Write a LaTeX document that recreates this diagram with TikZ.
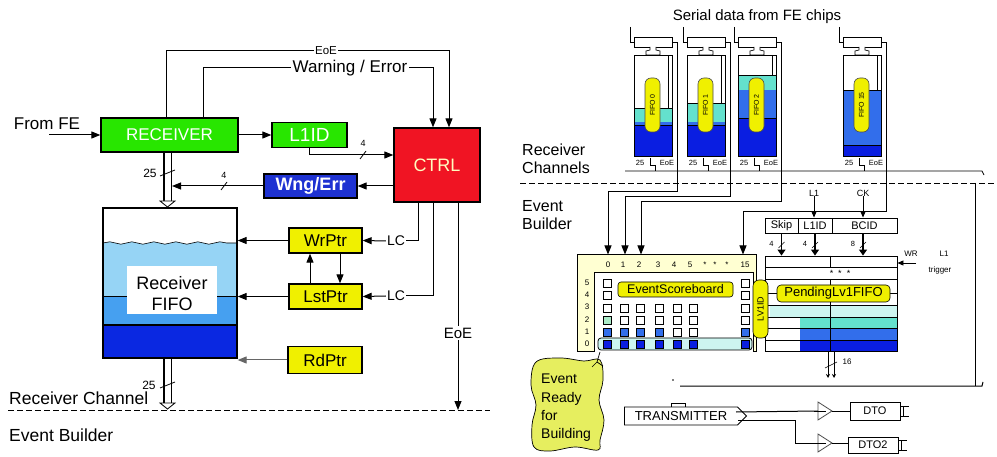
\documentclass[tikz,border=0pt]{standalone}
\usepackage{fontspec}
\setmainfont{Liberation Sans}
\usetikzlibrary{arrows.meta,decorations.pathmorphing,shapes.symbols,calc}
\newcommand\myfs[1]{\fontsize{#1}{#1}\selectfont}
\definecolor{cgreen}{RGB}{40,230,0}
\definecolor{cred}{RGB}{240,20,35}
\definecolor{cblue}{RGB}{30,50,210}
\definecolor{cyel}{RGB}{240,240,0}
\definecolor{fifoL}{RGB}{150,212,245}
\definecolor{fifoM}{RGB}{70,160,240}
\definecolor{fifoD}{RGB}{10,40,225}
\definecolor{aqua}{RGB}{100,225,205}
\definecolor{midb}{RGB}{50,110,235}
\definecolor{darkb}{RGB}{10,30,225}
\definecolor{paleq}{RGB}{205,245,240}
\definecolor{paleg}{RGB}{170,235,200}
\definecolor{pyel}{RGB}{255,255,210}
\definecolor{callout}{RGB}{230,238,95}
\begin{document}
\begin{tikzpicture}[x=1pt,y=-1pt,
  blk/.style={draw=black, line width=1.3pt, inner sep=0pt},
  wire/.style={line width=1pt},
  arr/.style={line width=1pt, -{Triangle[length=9pt,width=7pt]}},
  sarr/.style={line width=0.8pt, -{Triangle[length=6pt,width=5pt]}},
  barr/.style={line width=1.2pt, -{Triangle[length=6pt,width=8pt]}},
  sq/.style={draw=black, line width=0.9pt},
  lbl/.style={inner sep=0pt, font=\myfs{17}},
  small/.style={inner sep=0pt, font=\myfs{8}},
  pill/.style={fill=cyel, draw=black!70, line width=0.6pt, inner sep=0pt},
  whitelbl/.style={fill=white, inner sep=1.5pt}]
\useasboundingbox (0,0) rectangle (997,457);
\fill[white] (0,0) rectangle (997,457);

% ================= LEFT: receiver channel =================
% FIFO contents
\fill[fifoL] decorate[decoration={snake,amplitude=1.2pt,segment length=22pt}]{(103,243) -- (237,243)} -- (237,296) -- (103,296) -- cycle;
\draw[line width=0.6pt] decorate[decoration={snake,amplitude=1.2pt,segment length=22pt}]{(103,243) -- (237,243)};
\fill[fifoM] (103,296) rectangle (237,325);
\fill[fifoD] (103,325) rectangle (237,358);
\draw[line width=0.8pt] (103,296) -- (237,296);
\draw[line width=1.2pt] (103,325) -- (237,325);
\fill[white] (127,266) rectangle (217,314);
\node[align=center, font=\fontsize{18}{21}\selectfont, inner sep=0pt] (fifolbl) at (172,293.5) {Receiver\\FIFO};
\node[draw, line width=1.3pt, minimum width=134pt, minimum height=150pt, inner sep=0pt] (fifo) at (170,283) {};

\node[blk, fill=cgreen, minimum width=137pt, minimum height=34pt, text=white, font=\myfs{17}] (rcv) at (169.5,135) {RECEIVER};
\node[blk, fill=cgreen, minimum width=75pt, minimum height=25pt, text=white, font=\myfs{19}] (l1id) at (309.5,135) {L1ID};
\node[blk, fill=cred, minimum width=86pt, minimum height=74pt, text=yellow!25!white, font=\myfs{18}] (ctrl) at (437,165) {CTRL};
\node[blk, fill=cblue, minimum width=93pt, minimum height=24pt, text=white, font=\bfseries\myfs{18}] (wng) at (310.5,186) {Wng/Err};
\node[blk, fill=cyel, minimum width=73pt, minimum height=25pt, font=\myfs{17}] (wrptr) at (325.5,240.5) {WrPtr};
\node[blk, fill=cyel, minimum width=73pt, minimum height=25pt, font=\myfs{17}] (lstptr) at (325.5,296.5) {LstPtr};
\node[blk, fill=cyel, minimum width=74pt, minimum height=27pt, font=\myfs{17}] (rdptr) at (325,360) {RdPtr};
\node[lbl] (fromfe) at (47,124) {From FE};

\coordinate (fe) at (49,135);
\draw[arr] (fe) -- (rcv.west);
\draw[arr] (rcv.east) -- (l1id.west);
\draw[arr] (l1id.south) |- (ctrl.west |- 0,155);
\draw[line width=0.8pt] (360,159) -- (366,151);
\node[small, font=\myfs{9}] at (363,143) {4};
\draw[arr] (ctrl.west |- wng.east) -- (wng.east);
\coordinate (busR) at (172,186);
\draw[arr] (wng.west) -- (busR);
\draw[line width=0.8pt] (221,190) -- (227,182);
\node[small, font=\myfs{9}] at (224,175) {4};

% top feedback lines
\draw[arr] (166,0 |- rcv.north) |- (449,51) -- (449,0 |- ctrl.north);
\node[whitelbl, font=\myfs{11.5}] at (326,51) {EoE};
\draw[arr] (203,0 |- rcv.north) |- (433,68) -- (433,0 |- ctrl.north);
\node[whitelbl, font=\myfs{17}] at (350,68) {Warning / Error};

% CTRL outputs
\node[inner sep=1pt, font=\myfs{14}] (lc1) at (396,241) {LC};
\node[inner sep=1pt, font=\myfs{14}] (lc2) at (396,296) {LC};
\draw[wire] (418,0 |- ctrl.south) |- (lc1.east);
\draw[arr] (lc1.west) -- (wrptr.east);
\draw[wire] (433,0 |- ctrl.south) |- (lc2.east);
\draw[arr] (lc2.west) -- (lstptr.east);
\coordinate (eoeend) at (458,410);
\draw[arr] (458,0 |- ctrl.south) -- (eoeend);
\node[whitelbl, font=\myfs{15}] at (458,333) {EoE};

% pointer arrows
\draw[arr] (wrptr.west) -- (fifo.east |- wrptr.west);
\draw[arr] (lstptr.west) -- (fifo.east |- lstptr.west);
\draw[arr, draw=black!60] (rdptr.west) -- (fifo.east |- rdptr.west);
\draw[arr] (310,0 |- lstptr.north) -- (310,0 |- wrptr.south);
\draw[arr] (340,0 |- wrptr.south) -- (340,0 |- lstptr.north);

% buses
\draw[line width=1.6pt] (164,0 |- rcv.south) -- (164,201);
\draw[line width=1pt] (171,0 |- rcv.south) -- (171,201);
\draw[line width=0.8pt, fill=white] (160,201) -- (175,201) -- (167.5,207) -- cycle;
\draw[line width=0.8pt] (160,176) -- (175,170);
\node[inner sep=0pt, font=\myfs{12}] at (150,173) {25};
\draw[line width=1.6pt] (164,0 |- fifo.south) -- (164,403);
\draw[line width=1pt] (171,0 |- fifo.south) -- (171,403);
\draw[line width=0.8pt, fill=white] (160,403) -- (175,403) -- (167.5,409) -- cycle;
\draw[line width=0.8pt] (160,388) -- (175,382);
\node[inner sep=0pt, font=\myfs{12}] at (149,385) {25};

\draw[line width=1pt, dash pattern=on 6pt off 3pt] (8,410) -- (490,410);
\node[lbl, anchor=west, font=\myfs{17.5}] at (9,398) {Receiver Channel};
\node[lbl, anchor=west, font=\myfs{17.5}] at (9,435) {Event Builder};

% ================= RIGHT: event builder =================
\node[inner sep=0pt, font=\myfs{15}] (serial) at (757,17) {Serial data from FE chips};

\foreach \L/\lab/\wa/\wb/\wc [count=\i] in {634/0/108/122/125, 687/1/103/122/125, 738/2/75/90/118, 843/15/90/90/145} {
  \fill[aqua] (\L,\wa) rectangle (\L+38,\wb);
  \fill[midb] (\L,\wb) rectangle (\L+38,\wc);
  \fill[darkb] (\L,\wc) rectangle (\L+38,157);
  \draw[line width=0.6pt] (\L,\wa) -- (\L+38,\wa) (\L,\wc) -- (\L+38,\wc);
  \draw[line width=0.6pt] (\L+34,56) -- (\L+34,\wa);
  \node[draw, line width=1pt, minimum width=38pt, minimum height=101pt, inner sep=0pt] (ch\i) at (\L+19,106.5) {};
  \node[draw, line width=0.9pt, minimum width=38pt, minimum height=10pt, inner sep=0pt] (mux\i) at (\L+19,42) {};
  \draw[line width=0.8pt] (\L-4,27) |- (mux\i.west);
  \draw[line width=0.7pt, fill=white] (\L+16,47) -- (\L+16,50) -- (\L+12,51) -- (\L+12,55) -- (\L+26,55) -- (\L+26,51) -- (\L+22,50) -- (\L+22,47);
  \draw[line width=0.8pt] (mux\i.east) -| (\L+43,171);
  \node[pill, rounded corners=6pt, minimum width=15pt, minimum height=54pt] (pill\i) at (\L+18.5,105) {};
  \node[rotate=90, inner sep=0pt, font=\myfs{7}] at (pill\i) {FIFO \lab};
  \node[small, font=\myfs{7.5}] at (\L+6,163) {25};
  \node[small, font=\myfs{7.5}] at (\L+33,163) {EoE};
  \draw[line width=0.6pt] (\L+16,158) -- (\L+16,165) -- (\L+21,165) -- (\L+21,171);
}
\draw[line width=0.8pt] (625,171) -- (982,171) -- (984,175);
\draw[line width=0.9pt, dash pattern=on 6pt off 3pt] (520,183) -- (997,183);
\node[lbl, anchor=west, font=\myfs{16}] at (522,150) {Receiver};
\node[lbl, anchor=west, font=\myfs{16}] at (522,168) {Channels};
\node[lbl, anchor=west, font=\myfs{16}] at (522,206) {Event};
\node[lbl, anchor=west, font=\myfs{16}] at (522,224) {Builder};

% scoreboard
\node[draw, fill=pyel, line width=1pt, minimum width=179pt, minimum height=97pt, inner sep=0pt] (sb) at (666.5,303.5) {};
\draw[line width=1pt, fill=white] (594,352) |- (753,273) -- (753,352);
\draw[arr] (677,171) |- (608,192) -- (608,0 |- sb.north);
\draw[arr] (730,171) |- (625,197) -- (625,0 |- sb.north);
\draw[arr] (781,171) |- (641,202) -- (641,0 |- sb.north);
\draw[arr] (886,171) |- (743,212) -- (743,0 |- sb.north);
\foreach \t/\x in {0/608,1/623,2/639,3/658,4/674,5/690,*/705,*/715,*/727,15/745}
  \node[small] at (\x,265) {\t};
\foreach \t/\y in {5/283,4/295,3/307,2/320,1/332,0/344}
  \node[small] at (587,\y) {\t};
\draw[fill=paleq, rounded corners=3pt, line width=0.8pt] (598,338) rectangle (752,350);
\foreach \x in {607.5,745} \foreach \y in {283.5,295}
  \draw[sq, fill=white] (\x-4,\y-4) rectangle (\x+4,\y+4);
\foreach \x in {607.5,624,640,659,677,693,745} {
  \draw[sq, fill=white] (\x-4,304) rectangle (\x+4,312);
  \draw[sq, fill=darkb] (\x-4,340) rectangle (\x+4,348);
}
\foreach \x/\c in {607.5/paleg,624/white,640/white,659/white,677/white,693/white,745/white}
  \draw[sq, fill=\c] (\x-4,316) rectangle (\x+4,324);
\foreach \x/\c in {607.5/midb,624/midb,640/midb,659/midb,677/white,693/white,745/midb}
  \draw[sq, fill=\c] (\x-4,328) rectangle (\x+4,336);
\node[pill, draw=black, rounded corners=3pt, minimum width=115pt, minimum height=15pt, font=\myfs{12.5}] (esb) at (675.5,289.5) {EventScoreboard};

% L1 / CK and ID register
\node[draw, line width=0.9pt, minimum width=33pt, minimum height=15pt, inner sep=0pt, font=\myfs{11}] (skip) at (781.5,225.5) {Skip};
\node[draw, line width=0.9pt, minimum width=34pt, minimum height=15pt, inner sep=0pt, font=\myfs{11}] (l1idr) at (815,225.5) {L1ID};
\node[draw, line width=0.9pt, minimum width=65pt, minimum height=15pt, inner sep=0pt, font=\myfs{11}] (bcid) at (864.5,225.5) {BCID};
\node[small, font=\myfs{9}] (l1in) at (814,193) {L1};
\node[small, font=\myfs{9}] (ck) at (863,193) {CK};
\draw[sarr] (l1in.south) -- (l1in.south |- l1idr.north);
\draw[sarr] (ck.south) -- (ck.south |- bcid.north);

\node[draw, line width=0.9pt, minimum width=132pt, minimum height=11pt, inner sep=0pt] (reg) at (831,261.5) {};
\draw[line width=0.9pt] (830,0 |- reg.north) -- (830,0 |- reg.south);
\draw[barr] (781.5,0 |- skip.south) -- (781.5,0 |- reg.north);
\draw[barr] (815,0 |- l1idr.south) -- (815,0 |- reg.north);
\draw[barr] (863,0 |- bcid.south) -- (863,0 |- reg.north);
\foreach \x/\n in {781.5/4,815/4,863/8} {
  \draw[line width=0.6pt] (\x-3,248) -- (\x+3,242);
  \node[small, font=\myfs{7.5}] at (\x-10,244) {\n};
}
\coordinate (wr) at (916,263);
\draw[sarr] (wr) -- (reg.east |- wr);
\node[small, font=\myfs{8}] at (911,254) {WR};
\node[small, font=\myfs{8}] at (944,254) {L1};
\node[small, font=\myfs{8}] at (940,270) {trigger};
\node[small, font=\myfs{9}] at (840,273) {* \ * \ *};

% pending LV1 FIFO
\fill[paleq] (770,305) rectangle (897,317);
\fill[aqua] (800,317) rectangle (897,328);
\fill[midb] (800,328) rectangle (897,340);
\fill[darkb] (800,340) rectangle (897,352);
\node[draw, line width=1pt, minimum width=132pt, minimum height=72pt, inner sep=0pt] (pend) at (831,316) {};
\draw[line width=1pt] (765,0 |- reg.south) -- (765,280) (897,0 |- reg.south) -- (897,280);
\foreach \y in {293,305,317,328,340}
  \draw[line width=0.9pt] (765,\y) -- (897,\y);
\draw[line width=0.9pt, white] (830,318) -- (830,352);
\draw[line width=0.9pt] (830,280) -- (830,352);
\node[pill, draw=black, rounded corners=4pt, minimum width=113pt, minimum height=17pt, font=\myfs{13}] (plf) at (833.5,293.5) {PendingLv1FIFO};
\node[pill, draw=black, rounded corners=6pt, minimum width=15pt, minimum height=58pt] (lv1) at (760.5,309) {};
\node[rotate=90, inner sep=0pt, font=\myfs{9}] at (lv1) {LV1ID};
\draw[line width=0.8pt, -{Stealth[length=4pt,width=4pt]}] (828,0 |- pend.south) -- (828,378);
\draw[line width=0.8pt, -{Stealth[length=4pt,width=4pt]}] (834,0 |- pend.south) -- (834,378);
\draw[line width=0.6pt] (825,368) -- (837,362);
\node[small, font=\myfs{8}] at (847,362) {16};

% callout
\draw[line width=0.7pt, fill=callout] plot[smooth cycle, tension=0.6] coordinates {(536,362) (560,358) (584,361) (600,360) (603,380) (599,400) (604,420) (600,440) (598,450) (575,447) (550,451) (534,447) (532,425) (536,405) (531,385)};
\node[align=left, anchor=north west, inner sep=0pt, font=\fontsize{14}{18.3}\selectfont] (evr) at (541,374) {Event\\Ready\\for\\Building};
\draw[line width=0.7pt] (600,352) -- (597,362) -- (592,367) (597,362) -- (603,366);

% transmitter and outputs
\node[signal, signal to=east, draw, line width=0.9pt, minimum width=122pt, minimum height=18pt, inner sep=0pt, font=\myfs{13}] (tx) at (681,416) {TRANSMITTER};
\draw[line width=0.7pt] (671,407) |- (685,403) -- (685,407);
\fill (673,380) circle (0.9);
\draw[wire] (680,386) -- (982,386) -- (983,382);
\draw[wire] (975,183) -- (975,386);
\node[draw, line width=0.9pt, minimum width=50pt, minimum height=18pt, inner sep=0pt, font=\myfs{11}] (dto) at (875,411) {DTO};
\node[draw, line width=0.9pt, minimum width=50pt, minimum height=16pt, inner sep=0pt, font=\myfs{11}] (dto2) at (873,445) {DTO2};
\coordinate (b1) at (818,411);
\coordinate (b2) at (818,443);
\draw[line width=0.8pt, draw=black!70] (b1) ++(0,-9) -- ++(14,9) -- ++(-14,9) -- cycle;
\draw[line width=0.8pt, draw=black!70] (b2) ++(0,-9) -- ++(14,9) -- ++(-14,9) -- cycle;
\draw[wire] (736,412) -- (b1);
\draw[wire] (814,411) -- (826,411);
\draw[wire] (832,411) -- (dto.west);
\draw[wire] (738,420) -| (795,443) -- (b2);
\draw[wire] (814,443) -- (826,443);
\draw[wire] (832,443) -- (dto2.west |- b2);
\draw[line width=0.8pt] (dto.east |- 0,406) -- ++(9,0) (dto.east |- 0,416) -- ++(9,0) (903,406) -- (903,416);
\draw[line width=0.8pt] (dto2.east |- 0,440) -- ++(9,0) (dto2.east |- 0,450) -- ++(9,0) (901,440) -- (901,450);
\end{tikzpicture}
\end{document}
